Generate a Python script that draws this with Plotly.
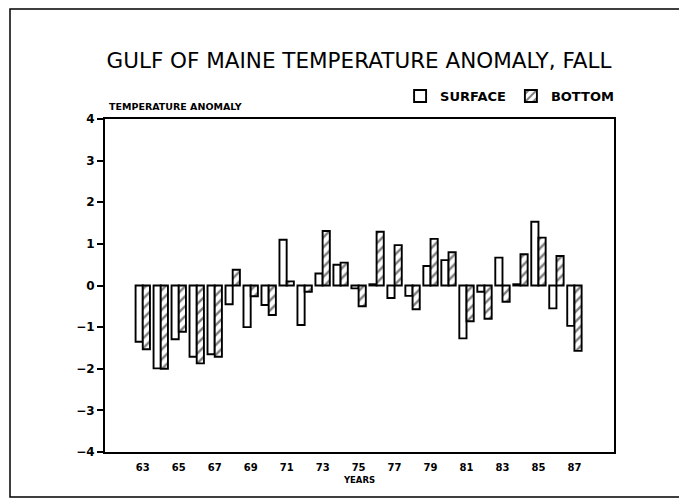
import plotly.graph_objects as go

years = list(range(63, 88))
surface = [-1.35, -1.99, -1.29, -1.71, -1.65, -0.45, -1.00, -0.47, 1.10, -0.95,
           0.29, 0.50, -0.07, 0.03, -0.30, -0.25, 0.47, 0.61, -1.27, -0.15,
           0.67, 0.03, 1.53, -0.55, -0.97]
bottom = [-1.53, -2.00, -1.11, -1.87, -1.71, 0.38, -0.26, -0.71, 0.10, -0.15,
          1.31, 0.55, -0.50, 1.29, 0.97, -0.57, 1.12, 0.80, -0.86, -0.80,
          -0.39, 0.75, 1.15, 0.71, -1.57]
tick_years = list(range(63, 88, 2))
tick_labels = [str(y) for y in tick_years]

# page has an 8px body margin; work in page pixels and convert
OFF = 8
PW, PH = 687, 500
W, H = PW - OFF, PH - OFF
PL, PR, PT, PB = 105, 614, 119, 452   # plot box in page pixels
L, T = PL - OFF, PT - OFF
R, B = (W - (PR - OFF)), (H - (PB - OFF))
pw, ph = PR - PL, PB - PT

def px(x):
    return (x - PL) / pw

def py(y):
    return (PB - y) / ph

fam = "DejaVu Sans"

fig = go.Figure()
fig.add_trace(go.Bar(
    x=years, y=surface, name="SURFACE",
    marker=dict(color="white", line=dict(color="black", width=1.9)),
))
fig.add_trace(go.Bar(
    x=years, y=bottom, name="BOTTOM",
    marker=dict(color="white", line=dict(color="black", width=1.9),
                pattern=dict(shape="/", fgcolor="black", bgcolor="white",
                             size=7, solidity=0.35)),
))

fig.update_layout(
    width=W, height=H,
    margin=dict(l=L, r=R, t=T, b=B),
    paper_bgcolor="white", plot_bgcolor="white",
    barmode="group", bargap=0.2, bargroupgap=0,
    font=dict(family=fam, color="black"),
    title=dict(text="GULF OF MAINE TEMPERATURE ANOMALY, FALL",
               x=(359 - OFF) / W, xanchor="center",
               y=1 - (60 - OFF) / H, yanchor="middle",
               font=dict(family=fam, size=21.5, color="black")),
    legend=dict(orientation="h", x=1.01, xanchor="right", y=py(96), yanchor="middle",
                font=dict(family=fam, size=13, color="black", weight="bold"),
                itemwidth=30, tracegroupgap=0, bgcolor="rgba(0,0,0,0)"),
    showlegend=True,
    xaxis=dict(range=[60.9, 89.2], tickmode="array", tickvals=tick_years,
               ticktext=[f"<b>{t}</b>" for t in tick_labels], ticks="",
               ticklabelstandoff=5,
               showline=True, linecolor="black", linewidth=2, mirror=True,
               showgrid=False, zeroline=False,
               tickfont=dict(size=10, color="black"),
               title=dict(text="<b>YEARS</b>", font=dict(size=8.5, color="black"), standoff=5)),
    yaxis=dict(range=[-4, 4], dtick=1, ticks="outside", ticklen=6, tickwidth=1.5,
               tickcolor="black",
               showline=True, linecolor="black", linewidth=2, mirror=True,
               showgrid=False, zeroline=False,
               tickfont=dict(size=12, color="black"), tickprefix="<b>", ticksuffix="</b>"),
    annotations=[dict(text="<b>TEMPERATURE ANOMALY</b>", xref="paper", yref="paper",
                      x=px(107), y=py(106), xanchor="left", yanchor="middle",
                      showarrow=False, font=dict(size=9.5, color="black"))],
    shapes=[dict(type="rect", xref="paper", yref="paper",
                 x0=px(10), x1=px(683), y0=py(497), y1=py(9),
                 line=dict(color="black", width=1.5))],
)

fig.write_html("out.html")
